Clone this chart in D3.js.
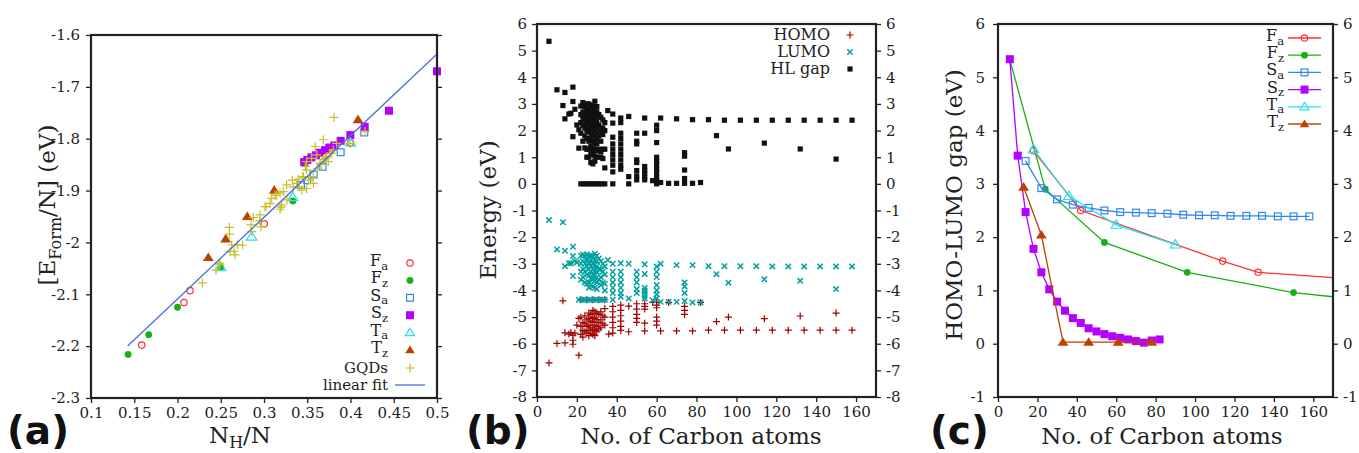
<!DOCTYPE html>
<html><head><meta charset="utf-8">
<script src="https://cdn.jsdelivr.net/npm/d3@7"></script>
<style>
body{margin:0;background:#fff}
text{font-family:"DejaVu Serif",serif;fill:#222}
text.plab{font-family:"DejaVu Sans",sans-serif;font-weight:bold;fill:#111}
</style>
</head><body>
<svg id="chart" width="1359" height="453"></svg>
<script>
// ---------------- DATA ----------------
// Panel (a): formation energy per atom vs N_H/N
const aXTicks = [0.1,0.15,0.2,0.25,0.3,0.35,0.4,0.45,0.5];
const aXTickLabels = ["0.1","0.15","0.2","0.25","0.3","0.35","0.4","0.45","0.5"];
const aYTicks = [-2.3,-2.2,-2.1,-2.0,-1.9,-1.8,-1.7,-1.6];
const aYTickLabels = ["-2.3","-2.2","-2.1","-2","-1.9","-1.8","-1.7","-1.6"];

const aFa_x = [0.1586,0.2075,0.2145,0.3003,0.4];
const aFa_y = [-2.198,-2.116,-2.093,-1.964,-1.808];
const aFz_x = [0.1429,0.1667,0.2,0.25,0.3333,0.5];
const aFz_y = [-2.216,-2.178,-2.125,-2.048,-1.920,-1.670];
const aSa_x = [0.3428,0.3500,0.3575,0.3678,0.3886,0.416];
const aSa_y = [-1.889,-1.880,-1.869,-1.854,-1.826,-1.788];
const aSz_x = [0.5,0.4445,0.4164,0.3998,0.3886,0.3813,0.3755,0.3705,0.3647,0.3601,0.3547,0.3501,0.3465];
const aSz_y = [-1.670,-1.746,-1.777,-1.793,-1.804,-1.813,-1.817,-1.822,-1.827,-1.832,-1.836,-1.841,-1.845];
const aTa_x = [0.25,0.2857,0.3333,0.4];
const aTa_y = [-2.048,-1.989,-1.913,-1.808];
const aTz_x = [0.2356,0.2557,0.2807,0.3119,0.4087];
const aTz_y = [-2.029,-1.993,-1.950,-1.899,-1.763];
const aGQD = [[0.2287,-2.078],[0.2445,-2.053],[0.2491,-2.042],[0.2484,-2.040],[0.2599,-1.971],[0.2599,-1.984],
  [0.2626,-2.005],[0.2653,-2.017],[0.2665,-2.024],[0.2692,-2.005],[0.2753,-2.005],[0.2607,-2.018],[0.285,-1.966],
  [0.2877,-1.952],[0.2954,-1.947],[0.2965,-1.970],[0.2858,-1.979],[0.3023,-1.931],[0.3069,-1.925],[0.3127,-1.909],
  [0.3185,-1.936],[0.3205,-1.928],[0.3262,-1.889],[0.3223,-1.902],[0.3339,-1.893],[0.3089,-1.915],[0.3185,-1.905],
  [0.3327,-1.880],[0.3454,-1.873],[0.3493,-1.860],[0.357,-1.873],[0.3493,-1.844],[0.3593,-1.815],[0.3686,-1.802],
  [0.381,-1.759],[0.3725,-1.835],[0.3801,-1.822],[0.384,-1.809],[0.3647,-1.847],[0.3743,-1.844],[0.353,-1.873],
  [0.357,-1.886],[0.3493,-1.896],[0.3436,-1.899],[0.3378,-1.886],[0.3763,-1.828],[0.3994,-1.809],[0.355,-1.838],
  [0.361,-1.831],[0.3478,-1.854],[0.3447,-1.874],[0.3147,-1.909],[0.3197,-1.932],[0.3012,-1.931],[0.3616,-1.857],
  [0.3513,-1.880],[0.4168,-1.786],[0.3782,-1.828],[0.3686,-1.840],[0.366,-1.850],[0.371,-1.838],[0.3395,-1.878],
  [0.3405,-1.893],[0.3265,-1.918],[0.2950,-1.958]];
const aFit_x = [0.1424,0.4988];
const aFit_y = [-2.1997,-1.6386];

// Panel (b): HOMO / LUMO / HL gap vs number of carbon atoms
const bXTicks = [0,20,40,60,80,100,120,140,160];
const bYTicks = [-8,-7,-6,-5,-4,-3,-2,-1,0,1,2,3,4,5,6];
const bHOMO = [[6,-6.72],[13,-4.39],[10,-5.99],[14,-5.97],[18,-6.02],[18,-5.87],[18,-5.68],[14,-5.59],[16,-5.64],
  [17,-5.58],[21,-6.43],[21,-5.05],[19,-5.6],[20,-5.3],
  [22,-5.0],[22,-5.35],[22,-5.65],[23,-5.2],[23,-5.5],[23,-5.75],[24,-4.95],[24,-5.25],[24,-5.55],[25,-5.1],[25,-5.35],
  [25,-5.6],[26,-4.85],[26,-5.05],[26,-5.3],[26,-5.5],[26,-5.7],[27,-4.9],[27,-5.15],[27,-5.4],[27,-5.6],[28,-4.75],
  [28,-5.0],[28,-5.2],[28,-5.45],[28,-5.65],[29,-4.8],[29,-5.05],[29,-5.3],[29,-5.5],[29,-5.7],[30,-4.85],[30,-5.1],
  [30,-5.35],[30,-5.55],[31,-4.9],[31,-5.2],[31,-5.45],[32,-4.8],[32,-5.1],[32,-5.4],[33,-4.95],[33,-5.25],[34,-4.68],
  [34,-5.0],[34,-5.3],[22,-4.35],[25,-4.35],[28,-4.35],[31,-4.35],[34,-4.35],
  [38,-4.6],[38,-4.8],[38,-5.0],[38,-5.2],[38,-5.4],[38,-5.6],[36,-5.64],[42,-4.55],[42,-4.75],[42,-4.95],[42,-5.15],
  [42,-5.35],[42,-5.5],[46,-4.59],[46,-5.55],[50,-4.5],[50,-4.7],[50,-4.9],[50,-5.05],[50,-5.2],[54,-4.5],[54,-4.6],
  [54,-4.7],[54,-5.23],[54,-5.52],[58,-4.45],[60,-4.45],[60,-4.55],[60,-4.65],[60,-5.0],[60,-5.15],[60,-5.3],[62,-5.52],
  [66,-4.45],[70,-5.52],[74,-4.6],[74,-4.75],[74,-4.9],[78,-5.52],[82,-4.45],[86,-5.49],[90,-5.17],[94,-5.49],
  [96,-5.00],[102,-5.49],[110,-5.49],[114,-5.06],[118,-5.49],[126,-5.49],[132,-4.96],[134,-5.49],[142,-5.49],
  [150,-5.49],[150,-4.85],[158,-5.49]];
const bLUMO = [[6,-1.36],[13,-1.44],[10,-2.46],[14,-2.51],[18,-2.36],[14,-3.09],[16,-2.98],[17,-2.98],[18,-3.46],
  [18,-2.71],[19,-2.9],[20,-2.95],
  [22,-2.7],[22,-3.0],[22,-3.3],[22,-3.6],[23,-2.65],[23,-2.9],[23,-3.2],[23,-3.5],[24,-2.7],[24,-3.0],[24,-3.3],
  [24,-3.7],[25,-2.65],[25,-2.85],[25,-3.1],[25,-3.4],[25,-3.75],[26,-2.7],[26,-2.95],[26,-3.2],[26,-3.45],[26,-3.7],
  [26,-3.9],[27,-2.7],[27,-2.9],[27,-3.1],[27,-3.3],[27,-3.55],[27,-3.8],[28,-2.75],[28,-3.0],[28,-3.2],[28,-3.4],
  [28,-3.6],[28,-3.85],[29,-2.62],[29,-2.85],[29,-3.05],[29,-3.25],[29,-3.45],[29,-3.65],[29,-3.9],[30,-2.7],[30,-2.9],
  [30,-3.1],[30,-3.3],[30,-3.5],[30,-3.7],[30,-3.95],[31,-2.8],[31,-3.2],[31,-3.6],[32,-2.9],[32,-3.2],[32,-3.5],
  [32,-3.8],[33,-3.0],[33,-3.3],[33,-3.7],[34,-3.1],[34,-3.4],[34,-3.75],[34,-4.0],
  [21,-4.35],[22.5,-4.35],[24,-4.35],[25.5,-4.35],[27,-4.35],[28.5,-4.35],[30,-4.35],[31.5,-4.35],[33,-4.35],
  [34,-4.35],[38,-4.35],
  [35.5,-2.86],[38,-3.0],[38,-3.3],[38,-3.5],[38,-3.7],[38,-3.9],[38,-4.1],[42,-2.98],[42,-3.3],[42,-3.5],[42,-3.7],
  [42,-3.9],[42,-4.1],[42,-4.24],[46,-3.0],[46,-4.3],[50,-3.3],[50,-3.5],[50,-3.7],[50,-3.95],[50,-4.1],[54,-3.02],
  [54,-3.38],[54,-3.9],[54,-4.0],[54,-4.1],[54,-4.2],[54,-4.3],[58,-4.37],[60,-3.1],[60,-3.3],[60,-3.5],[60,-3.8],
  [60,-4.0],[60,-4.15],[60,-4.3],[62,-3.0],[62,-4.43],[66,-4.43],[70,-3.05],[70,-4.43],[74,-3.7],[74,-3.85],[74,-4.1],
  [74,-4.4],[78,-3.05],[78,-4.45],[82,-4.45],[86,-3.09],[90,-3.39],[94,-3.09],[96,-3.71],[102,-3.09],[110,-3.09],
  [114,-3.58],[118,-3.10],[126,-3.10],[132,-3.64],[134,-3.10],[142,-3.10],[150,-3.10],[150,-3.95],[158,-3.10]];
const bGap = [[6,5.35],[10,3.53],[14,3.43],[18,3.63],[13,2.94],[14,2.44],[16,2.62],[17,2.65],[18,1.77],[18,3.09],
  [19,2.80],[20,2.21],[21,2.03],[21,1.34],[22,2.92],
  [22,2.6],[22,2.3],[22,1.9],[23,3.05],[23,2.7],[23,2.5],[23,2.2],[23,1.6],[24,2.9],[24,2.6],[24,2.4],[24,2.1],[24,1.8],
  [24,1.35],[25,3.0],[25,2.75],[25,2.5],[25,2.25],[25,2.0],[25,1.7],[25,1.3],[25,1.0],[26,3.0],[26,2.8],[26,2.6],
  [26,2.4],[26,2.2],[26,1.95],[26,1.6],[26,1.3],[26,1.0],[27,2.95],[27,2.7],[27,2.5],[27,2.3],[27,2.1],[27,1.9],
  [27,1.7],[27,1.4],[27,1.1],[27,0.8],[28,2.9],[28,2.65],[28,2.45],[28,2.25],[28,2.05],[28,1.85],[28,1.6],[28,1.35],
  [28,1.2],[28,0.75],[29,3.1],[29,2.8],[29,2.6],[29,2.4],[29,2.2],[29,2.0],[29,1.8],[29,1.55],[29,1.3],[29,1.05],
  [29,0.85],[30,2.9],[30,2.7],[30,2.5],[30,2.3],[30,2.1],[30,1.9],[30,1.7],[30,1.5],[30,1.25],[30,1.0],[31,2.6],
  [31,2.2],[31,1.8],[31,1.3],[32,2.5],[32,2.0],[32,1.6],[32,1.2],[32,1.0],[33,2.4],[33,2.1],[33,1.85],[33,1.3],
  [33,0.95],[34,2.3],[34,2.0],[34,1.3],[34,0.6],
  [22,0],[23.5,0],[25,0],[26.5,0],[28,0],[29.5,0],[31,0],[32.5,0],[34,0],[38,0],
  [35.5,2.75],[38,2.62],[38,2.28],[38,1.75],[38,1.5],[38,1.3],[38,1.1],[38,0.9],[38,0.7],[38,0.45],[42,2.47],[42,2.3],
  [42,1.9],[42,1.7],[42,1.5],[42,1.3],[42,1.1],[42,0.9],[42,0.7],[42,0.55],[46,2.53],[46,0.27],[46,0],[50,1.9],
  [50,1.6],[50,1.5],[50,0.9],[50,0.8],[50,0.5],[50,0.3],[50,0.15],[54,2.47],[54,1.9],[54,0.65],[54,0.5],[54,0.4],
  [54,0.25],[54,0.15],[58,0.12],[60,2.2],[60,2.0],[60,1.55],[60,1.0],[60,0.85],[60,0.7],[60,0.55],[60,0.4],[60,0.25],
  [60,0.1],[60,0],[62,2.47],[62,0.05],[66,0.02],[70,2.44],[70,0.02],[74,1.17],[74,1.04],[74,0.52],[74,0.2],[74,0.02],
  [78,2.41],[78,0.02],[82,0.05],[86,2.41],[90,1.81],[94,2.39],[96,1.31],[102,2.39],[110,2.39],[114,1.53],[118,2.39],
  [126,2.39],[132,1.31],[134,2.39],[142,2.39],[150,2.39],[150,0.93],[158,2.39]];

// Panel (c): HOMO-LUMO gap vs number of carbon atoms
const cXTicks = [0,20,40,60,80,100,120,140,160];
const cYTicks = [-1,0,1,2,3,4,5,6];
const cFa_x = [18,42,114,132,222];
const cFa_y = [3.62,2.50,1.55,1.34,1.10];
const cFz_x = [6,24,54,96,150,216];
const cFz_y = [5.33,2.90,1.90,1.34,0.96,0.70];
const cSa_x = [14,22,30,38,46,54,62,70,78,86,94,102,110,118,126,134,142,150,158];
const cSa_y = [3.43,2.92,2.71,2.61,2.55,2.50,2.47,2.46,2.45,2.44,2.42,2.41,2.41,2.40,2.40,2.40,2.39,2.39,2.39];
const cSz_x = [6,10,14,18,22,26,30,34,38,42,46,50,54,58,62,66,70,74,78,82];
const cSz_y = [5.34,3.53,2.47,1.78,1.34,1.02,0.79,0.62,0.48,0.39,0.29,0.23,0.18,0.14,0.11,0.08,0.05,0.02,0.06,0.08];
const cTa_x = [18,36,60,90];
const cTa_y = [3.65,2.77,2.23,1.86];
const cTz_x = [13,22,33,46,61,78];
const cTz_y = [2.94,2.04,0.03,0.03,0.03,0.03];

// ---------------- DRAWING ----------------
const svg = d3.select("#chart");
const C = {Fa:"#ff3030", Fz:"#18b018", Sa:"#2f86f0", Sz:"#b400ff", Ta:"#28e0f0", Tz:"#c04000",
           GQD:"#c8c028", fit:"#4a6ee0", homo:"#a00000", lumo:"#00a0a0", gap:"#000"};

function marker(g, type, x, y, color, s) {
  s = s || 4;
  switch (type) {
    case "circleOpen":
      g.append("circle").attr("cx",x).attr("cy",y).attr("r",s*0.8).attr("fill","none").attr("stroke",color).attr("stroke-width",1.2); break;
    case "circleFill":
      g.append("circle").attr("cx",x).attr("cy",y).attr("r",s*0.85).attr("fill",color); break;
    case "squareOpen":
      g.append("rect").attr("x",x-s*0.85).attr("y",y-s*0.85).attr("width",s*1.7).attr("height",s*1.7).attr("fill","none").attr("stroke",color).attr("stroke-width",1.2); break;
    case "squareFill":
      g.append("rect").attr("x",x-s).attr("y",y-s).attr("width",s*2).attr("height",s*2).attr("fill",color); break;
    case "triOpen":
      g.append("path").attr("d",`M${x},${y-s*1.1}L${x+s*1.15},${y+s*0.75}L${x-s*1.15},${y+s*0.75}Z`).attr("fill","none").attr("stroke",color).attr("stroke-width",1.2); break;
    case "triFill":
      g.append("path").attr("d",`M${x},${y-s*1.1}L${x+s*1.2},${y+s*0.8}L${x-s*1.2},${y+s*0.8}Z`).attr("fill",color); break;
    case "plus":
      g.append("path").attr("d",`M${x-s},${y}h${2*s}M${x},${y-s}v${2*s}`).attr("stroke",color).attr("stroke-width",1.2).attr("fill","none"); break;
    case "cross":
      g.append("path").attr("d",`M${x-s},${y-s}L${x+s},${y+s}M${x-s},${y+s}L${x+s},${y-s}`).attr("stroke",color).attr("stroke-width",1.5).attr("fill","none"); break;
  }
}

function subText(g, x, y, main, sub, size, anchor) {
  const t = g.append("text").attr("x",x).attr("y",y).attr("font-size",size).attr("text-anchor",anchor||"start");
  t.append("tspan").text(main);
  t.append("tspan").attr("font-size",size*0.72).attr("dy",size*0.22).text(sub);
  return t;
}

function frame(g, x, y, opts) {
  const [x0,x1] = x.range(), [y1,y0] = y.range();
  const tl = 5;
  const ax = g.append("g").attr("transform",`translate(0,${y1})`)
    .call(d3.axisBottom(x).tickValues(opts.xTicks).tickFormat((d,i)=>opts.xLabels? opts.xLabels[i] : d)
      .tickSize(tl).tickSizeOuter(0).tickPadding(4));
  const ay = g.append("g").attr("transform",`translate(${x0},0)`)
    .call(d3.axisLeft(y).tickValues(opts.yTicks).tickFormat((d,i)=>opts.yLabels? opts.yLabels[i] : d)
      .tickSize(tl).tickSizeOuter(0).tickPadding(opts.lpad));
  const ar = g.append("g").attr("transform",`translate(${x1},0)`)
    .call(d3.axisRight(y).tickValues(opts.yTicks).tickFormat(opts.rightLabels ? (d=>d) : (()=>""))
      .tickSize(tl).tickSizeOuter(0).tickPadding(5));
  [ax,ay,ar].forEach(a=>{
    a.select(".domain").remove();
    a.selectAll("line").attr("stroke","#222").attr("stroke-width",1.3);
    a.selectAll("text").style("font-family","'DejaVu Serif',serif").attr("font-size",15).attr("fill","#222");
  });
  g.append("rect").attr("x",x0).attr("y",y0).attr("width",x1-x0).attr("height",y1-y0)
    .attr("fill","none").attr("stroke","#222").attr("stroke-width",2.2);
}

// ===== Panel (a)
(function(){
  const g = svg.append("g");
  const x = d3.scaleLinear().domain([0.1,0.5]).range([91,437]);
  const y = d3.scaleLinear().domain([-2.3,-1.6]).range([398,35]);
  const p = g.append("g");
  const series = [
    [aFa_x,aFa_y,"circleOpen",C.Fa,4],[aFz_x,aFz_y,"circleFill",C.Fz,4],
    [aSa_x,aSa_y,"squareOpen",C.Sa,4],[aSz_x,aSz_y,"squareFill",C.Sz,4],
    [aTa_x,aTa_y,"triOpen",C.Ta,4.5],[aTz_x,aTz_y,"triFill",C.Tz,4.5]];
  series.forEach(([xs,ys,t,c,s])=>xs.forEach((v,i)=>marker(p,t,x(v),y(ys[i]),c,s)));
  aGQD.forEach(d=>marker(p,"plus",x(d[0]),y(d[1]),C.GQD,4.5));
  p.append("path").attr("d",d3.line()(aFit_x.map((v,i)=>[x(v),y(aFit_y[i])])))
    .attr("stroke",C.fit).attr("stroke-width",1.3).attr("fill","none");
  frame(g,x,y,{xTicks:aXTicks,xLabels:aXTickLabels,yTicks:aYTicks,yLabels:aYTickLabels,lpad:6,rightLabels:false});
  const L = g.append("g");
  const items = [["F","a","circleOpen",C.Fa],["F","z","circleFill",C.Fz],["S","a","squareOpen",C.Sa],
    ["S","z","squareFill",C.Sz],["T","a","triOpen",C.Ta],["T","z","triFill",C.Tz]];
  items.forEach((it,i)=>{
    const yy = 263 + i*17.4;
    subText(L,388,yy+3,it[0],it[1],16,"end");
    marker(L,it[2],410,yy,it[3],4);
  });
  L.append("text").attr("x",388).attr("y",368+5).attr("font-size",15).attr("text-anchor","end").text("GQDs");
  marker(L,"plus",410,368,C.GQD,4.5);
  L.append("text").attr("x",388).attr("y",385+5).attr("font-size",15).attr("text-anchor","end").text("linear fit");
  L.append("line").attr("x1",395).attr("x2",425).attr("y1",385).attr("y2",385).attr("stroke",C.fit).attr("stroke-width",1.3);
  const yt = g.append("text").attr("transform","translate(55,205) rotate(-90)").attr("text-anchor","middle").attr("font-size",23);
  yt.append("tspan").text("[E");
  yt.append("tspan").attr("font-size",16).attr("dy",6).text("Form");
  yt.append("tspan").attr("dy",-6).text("/N] (eV)");
  const xt = g.append("text").attr("x",240).attr("y",443).attr("text-anchor","middle").attr("font-size",23);
  xt.append("tspan").text("N");
  xt.append("tspan").attr("font-size",16).attr("dy",5).text("H");
  xt.append("tspan").attr("dy",-5).text("/N");
  g.append("text").attr("class","plab").attr("x",7).attr("y",444).attr("font-size",39).text("(a)");
})();

// ===== Panel (b)
(function(){
  const g = svg.append("g");
  const x = d3.scaleLinear().domain([0,170]).range([537,876]);
  const y = d3.scaleLinear().domain([-8,6]).range([397,24]);
  const p = g.append("g");
  bHOMO.forEach(d=>marker(p,"plus",x(d[0]),y(d[1]),C.homo,3.5));
  bLUMO.forEach(d=>marker(p,"cross",x(d[0]),y(d[1]),C.lumo,2.7));
  bGap.forEach(d=>p.append("rect").attr("x",x(d[0])-2.6).attr("y",y(d[1])-2.6).attr("width",5.2).attr("height",5.2).attr("fill","#111"));
  frame(g,x,y,{xTicks:bXTicks,yTicks:bYTicks,lpad:5,rightLabels:true});
  const L = g.append("g");
  [["HOMO",35],["LUMO",52],["HL gap",69]].forEach(([t,yy],i)=>{
    L.append("text").attr("x",830).attr("y",yy+5).attr("font-size",16).attr("text-anchor","end").text(t);
    if (i===0) marker(L,"plus",850,yy,C.homo,3.5);
    if (i===1) marker(L,"cross",850,yy,C.lumo,2.7);
    if (i===2) L.append("rect").attr("x",847.4).attr("y",yy-2.6).attr("width",5.2).attr("height",5.2).attr("fill","#111");
  });
  g.append("text").attr("transform","translate(496,210) rotate(-90)").attr("text-anchor","middle").attr("font-size",23).text("Energy (eV)");
  g.append("text").attr("x",701).attr("y",444).attr("text-anchor","middle").attr("font-size",23).text("No. of Carbon atoms");
  g.append("text").attr("class","plab").attr("x",466).attr("y",444).attr("font-size",39).text("(b)");
})();

// ===== Panel (c)
(function(){
  const g = svg.append("g");
  const x = d3.scaleLinear().domain([0,170]).range([998,1333]);
  const y = d3.scaleLinear().domain([-1,6]).range([397,24]);
  svg.append("defs").append("clipPath").attr("id","clipc").append("rect")
    .attr("x",998).attr("y",24).attr("width",335).attr("height",373);
  const p = g.append("g").attr("clip-path","url(#clipc)");
  const series = [
    [cFa_x,cFa_y,"circleOpen",C.Fa,4],[cFz_x,cFz_y,"circleFill",C.Fz,4],
    [cSa_x,cSa_y,"squareOpen",C.Sa,4],[cSz_x,cSz_y,"squareFill",C.Sz,4],
    [cTa_x,cTa_y,"triOpen",C.Ta,4.5],[cTz_x,cTz_y,"triFill",C.Tz,4.5]];
  series.forEach(([xs,ys,t,c,s])=>{
    p.append("path").attr("d",d3.line()(xs.map((v,i)=>[x(v),y(ys[i])])))
      .attr("stroke",c).attr("stroke-width",1.3).attr("fill","none");
    xs.forEach((v,i)=>marker(p,t,x(v),y(ys[i]),c,s));
  });
  frame(g,x,y,{xTicks:cXTicks,yTicks:cYTicks,lpad:8,rightLabels:true});
  const L = g.append("g");
  const items = [["F","a","circleOpen",C.Fa],["F","z","circleFill",C.Fz],["S","a","squareOpen",C.Sa],
    ["S","z","squareFill",C.Sz],["T","a","triOpen",C.Ta],["T","z","triFill",C.Tz]];
  items.forEach((it,i)=>{
    const yy = 38 + i*17.2;
    subText(L,1284,yy+3,it[0],it[1],16,"end");
    L.append("line").attr("x1",1288).attr("x2",1321).attr("y1",yy).attr("y2",yy).attr("stroke",it[3]).attr("stroke-width",1.3);
    marker(L,it[2],1304.5,yy,it[3],4);
  });
  g.append("text").attr("transform","translate(962,205) rotate(-90)").attr("text-anchor","middle").attr("font-size",23).text("HOMO-LUMO gap (eV)");
  g.append("text").attr("x",1162).attr("y",444).attr("text-anchor","middle").attr("font-size",23).text("No. of Carbon atoms");
  g.append("text").attr("class","plab").attr("x",930).attr("y",444).attr("font-size",39).text("(c)");
})();
</script>
</body></html>
